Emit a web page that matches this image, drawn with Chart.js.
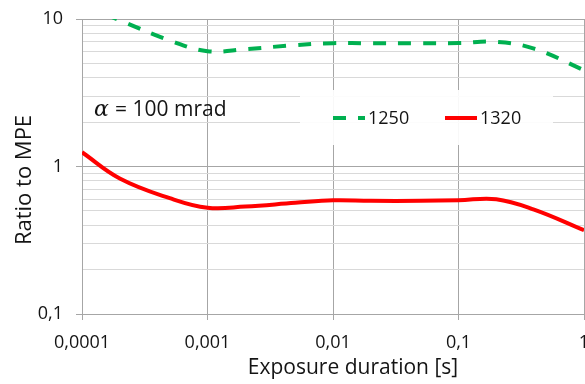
<!DOCTYPE html>
<html>
<head>
<meta charset="utf-8">
<script src="https://cdn.jsdelivr.net/npm/chart.js@4.4.0/dist/chart.umd.min.js"></script>
<style>
  html, body { margin: 0; padding: 0; background: #fff; }
  #wrap { width: 585px; height: 384px; }
</style>
</head>
<body>
<div id="wrap"><canvas id="ratio_chart" width="585" height="384"></canvas></div>
<script>
// exposure duration [s]
const durations = [0.0001, 0.0002, 0.0005, 0.001, 0.002, 0.005, 0.01, 0.02, 0.05, 0.1, 0.2, 0.4, 1];
const ratio_1250 = [12.5, 9.8, 7.15, 6.05, 6.25, 6.65, 6.86, 6.85, 6.85, 6.87, 7.0, 6.3, 4.5];
const ratio_1320 = [1.25, 0.83, 0.61, 0.525, 0.535, 0.567, 0.59, 0.585, 0.585, 0.59, 0.6, 0.51, 0.37];

const x_ticks = [0.0001, 0.001, 0.01, 0.1, 1];
const x_tick_labels = ['0,0001', '0,001', '0,01', '0,1', '1'];
const y_ticks = [0.1, 0.2, 0.3, 0.4, 0.5, 0.6, 0.7, 0.8, 0.9, 1, 2, 3, 4, 5, 6, 7, 8, 9, 10];
const y_tick_labels = { '0.1': '0,1', '1': '1', '10': '10' };

const MAJOR_GRID = '#a6a6a6';
const MINOR_GRID = '#d9d9d9';
const TEXT_COLOR = '#141414';

function is_decade(v) {
    var l = Math.log10(v);
    return Math.abs(l - Math.round(l)) < 1e-9;
}

function to_points(values) {
    var pts = [];
    for (var i = 0; i < durations.length; i++) {
        pts.push({ x: durations[i], y: values[i] });
    }
    return pts;
}

// legend box, alpha note and axis titles
const decorations = {
    id: 'decorations',
    afterDraw(chart) {
        var ctx = chart.ctx;
        var area = chart.chartArea;
        var sets = chart.data.datasets;
        ctx.save();

        // legend box
        var bx = area.left + 218, by = area.top + 71;
        ctx.fillStyle = 'rgba(255,255,255,0.92)';
        ctx.fillRect(bx, by, 253, 55);

        var ly = area.top + 99;
        var items = [{ ds: sets[0], x: area.left + 251 }, { ds: sets[1], x: area.left + 363 }];
        ctx.font = '18px "Open Sans"';
        ctx.textBaseline = 'middle';
        items.forEach(function (it) {
            ctx.beginPath();
            ctx.strokeStyle = it.ds.borderColor;
            ctx.lineWidth = it.ds.borderWidth;
            ctx.setLineDash(it.ds.borderDash || []);
            ctx.moveTo(it.x, ly);
            ctx.lineTo(it.x + 32, ly);
            ctx.stroke();
            ctx.setLineDash([]);
            ctx.fillStyle = TEXT_COLOR;
            ctx.textAlign = 'left';
            ctx.fillText(it.ds.label, it.x + 35, ly + 1);
        });

        // alpha note
        ctx.textBaseline = 'alphabetic';
        ctx.fillStyle = TEXT_COLOR;
        ctx.font = 'italic 22px "DejaVu Serif"';
        ctx.fillText('\u03B1', area.left + 12, area.top + 97);
        ctx.font = '21px "Open Sans"';
        ctx.fillText('= 100 mrad', area.left + 33, area.top + 97);

        // axis titles
        ctx.font = '21px "Open Sans"';
        ctx.textAlign = 'center';
        ctx.textBaseline = 'alphabetic';
        ctx.fillText('Exposure duration [s]', 353, 374);
        ctx.translate(31, 180);
        ctx.rotate(-Math.PI / 2);
        ctx.font = '22px "Open Sans"';
        ctx.fillText('Ratio to MPE', 0, 0);
        ctx.restore();
    }
};

window.onload = function () {
    const context = document.getElementById('ratio_chart');
    new Chart(context, {
        type: 'line',
        data: {
            datasets: [{
                label: '1250',
                data: to_points(ratio_1250),
                borderColor: '#00b050',
                borderWidth: 4,
                borderDash: [13, 12],
                pointRadius: 0,
                tension: 0.4
            }, {
                label: '1320',
                data: to_points(ratio_1320),
                borderColor: '#ff0000',
                borderWidth: 4,
                pointRadius: 0,
                tension: 0.4
            }]
        },
        options: {
            responsive: false,
            animation: false,
            layout: { padding: { top: 19, right: 1, left: 0, bottom: 0 } },
            plugins: {
                legend: { display: false },
                tooltip: { enabled: false }
            },
            scales: {
                x: {
                    type: 'logarithmic',
                    min: 0.0001,
                    max: 1,
                    afterBuildTicks: function (scale) {
                        scale.ticks = x_ticks.map(function (v) { return { value: v }; });
                    },
                    afterFit: function (scale) {
                        scale.height = 70;
                        scale.paddingLeft = 0;
                        scale.paddingRight = 0;
                    },
                    ticks: {
                        autoSkip: false,
                        maxRotation: 0,
                        padding: 12,
                        color: TEXT_COLOR,
                        font: { family: 'Open Sans', size: 18 },
                        callback: function (value) {
                            var i = x_ticks.indexOf(value);
                            return i >= 0 ? x_tick_labels[i] : '';
                        }
                    },
                    grid: { color: MAJOR_GRID, tickColor: MAJOR_GRID, tickLength: 6 },
                    border: { color: MAJOR_GRID }
                },
                y: {
                    type: 'logarithmic',
                    min: 0.1,
                    max: 10,
                    afterBuildTicks: function (scale) {
                        scale.ticks = y_ticks.map(function (v) { return { value: v }; });
                    },
                    afterFit: function (scale) {
                        scale.width = 82;
                        scale.paddingTop = 0;
                        scale.paddingBottom = 0;
                    },
                    ticks: {
                        autoSkip: false,
                        padding: 13,
                        color: TEXT_COLOR,
                        font: { family: 'Open Sans', size: 18 },
                        callback: function (value) {
                            return y_tick_labels[String(value)] || '';
                        }
                    },
                    grid: {
                        tickLength: 6,
                        color: function (c) { return c.tick && is_decade(c.tick.value) ? MAJOR_GRID : MINOR_GRID; },
                        tickColor: function (c) { return c.tick && is_decade(c.tick.value) ? MAJOR_GRID : 'rgba(0,0,0,0)'; }
                    },
                    border: { color: MAJOR_GRID }
                }
            }
        },
        plugins: [decorations]
    });
};
</script>
</body>
</html>
